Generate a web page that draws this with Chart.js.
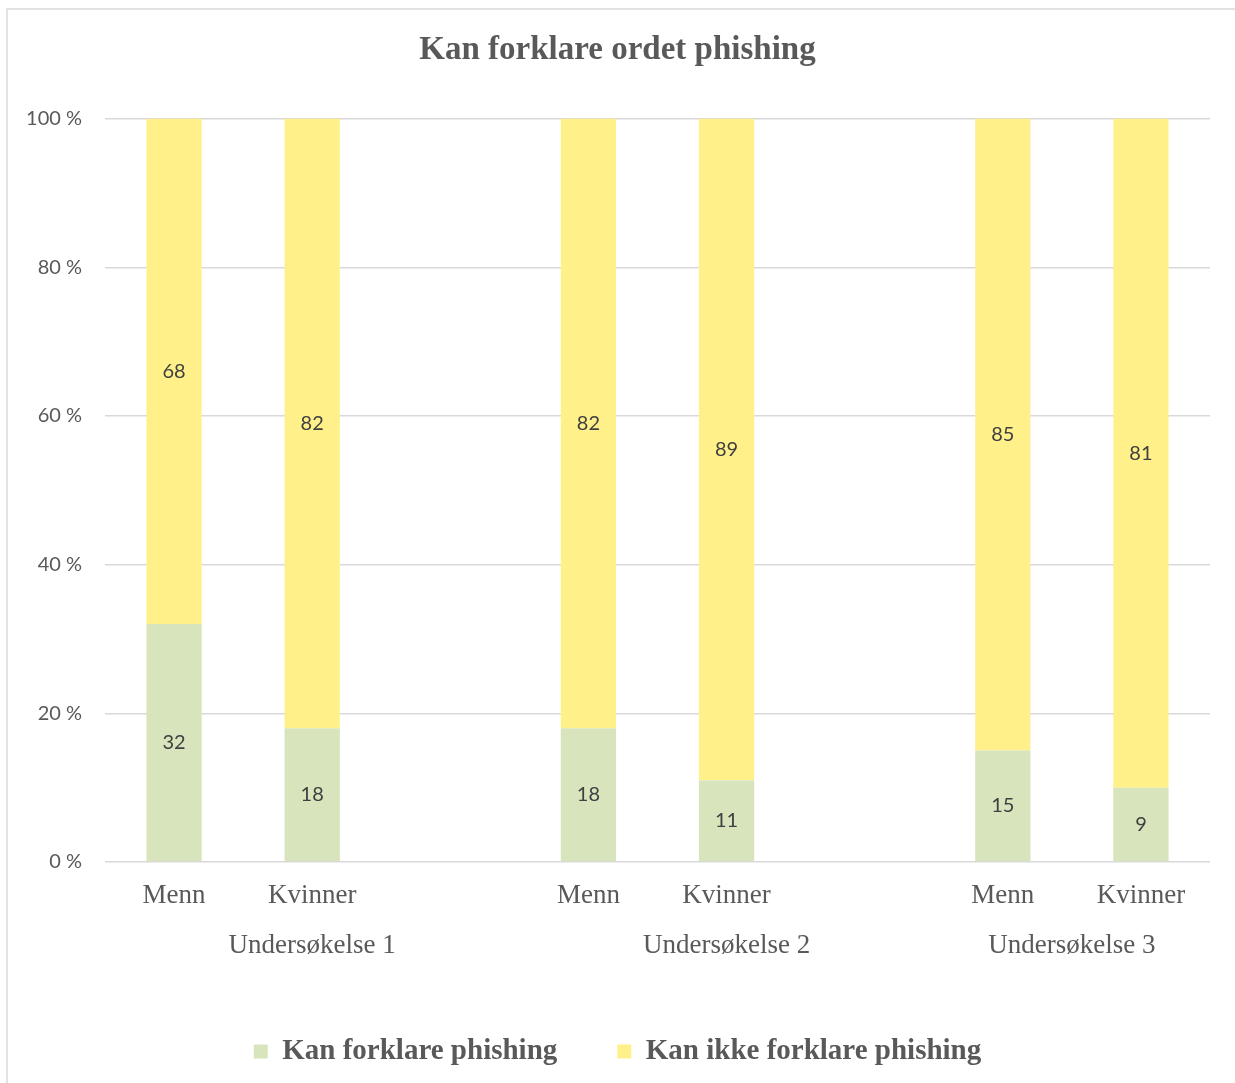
<!DOCTYPE html>
<html><head><meta charset="utf-8">
<script src="https://cdn.jsdelivr.net/npm/chart.js@4/dist/chart.umd.min.js"></script>
<style>html,body{margin:0;padding:0;background:#fff;overflow:hidden;}</style>
</head><body>
<canvas id="c" width="1235" height="1083"></canvas>
<script>
const titleText = "Kan forklare ordet phishing";
const categories = ["Menn", "Kvinner", "", "Menn", "Kvinner", "", "Menn", "Kvinner"];
const seriesNames = ["Kan forklare phishing", "Kan ikke forklare phishing"];
const kanForklare = [32, 18, null, 18, 11, null, 15, 9];
const kanIkkeForklare = [68, 82, null, 82, 89, null, 85, 81];
const groupLabels = ["Undersøkelse 1", "Undersøkelse 2", "Undersøkelse 3"];
const groupFirst = [0, 3, 6];
const groupLast = [2, 5, 7];
const yMax = 100;
const yStep = 20;

// 100 % stacked: each bar shows the share of its total
function share(arr, other) {
  return arr.map((v, i) => (v === null ? null : v / (v + other[i]) * 100));
}

const SERIF = "'Liberation Serif', 'Times New Roman', serif";
const SANS = "Lato, 'Noto Sans', sans-serif";
const GREY = "#595959";

const borderPlugin = {
  id: 'frame',
  beforeDraw(chart) {
    const ctx = chart.ctx;
    ctx.save();
    ctx.fillStyle = '#fff';
    ctx.fillRect(0, 0, chart.width, chart.height);
    ctx.strokeStyle = '#d9d9d9';
    ctx.lineWidth = 1.5;
    ctx.strokeRect(7, 9, chart.width + 20, chart.height + 20);
    ctx.restore();
  }
};

const valueLabels = {
  id: 'valueLabels',
  afterDatasetsDraw(chart) {
    const ctx = chart.ctx;
    ctx.save();
    ctx.font = "20px " + SANS;
    ctx.fillStyle = "#404040";
    ctx.textAlign = 'center';
    ctx.textBaseline = 'middle';
    chart.data.datasets.forEach((ds, di) => {
      const meta = chart.getDatasetMeta(di);
      meta.data.forEach((el, i) => {
        const v = ds.rawValues[i];
        if (v === null || v === undefined) return;
        ctx.fillText(String(v), el.x, (el.y + el.base) / 2);
      });
    });
    ctx.restore();
  }
};

const groupAxis = {
  id: 'groupAxis',
  afterDraw(chart) {
    const ctx = chart.ctx;
    const xs = chart.scales.x;
    ctx.save();
    ctx.font = "27px " + SERIF;
    ctx.fillStyle = GREY;
    ctx.textAlign = 'center';
    ctx.textBaseline = 'middle';
    groupLabels.forEach((g, i) => {
      const x = (xs.getPixelForTick(groupFirst[i]) + xs.getPixelForTick(groupLast[i])) / 2;
      ctx.fillText(g, x, chart.chartArea.bottom + 84);
    });
    ctx.restore();
  }
};

new Chart(document.getElementById('c'), {
  type: 'bar',
  data: {
    labels: categories,
    datasets: [
      { label: seriesNames[0], data: share(kanForklare, kanIkkeForklare), rawValues: kanForklare,
        backgroundColor: '#d8e4bc', borderWidth: 0 },
      { label: seriesNames[1], data: share(kanIkkeForklare, kanForklare), rawValues: kanIkkeForklare,
        backgroundColor: '#fff08a', borderWidth: 0 }
    ]
  },
  options: {
    responsive: false,
    animation: false,
    devicePixelRatio: 1,
    layout: { padding: { left: 25, right: 25, top: 10, bottom: 7 } },
    datasets: { bar: { categoryPercentage: 0.4, barPercentage: 1.0 } },
    plugins: {
      title: {
        display: true, text: titleText, color: GREY,
        font: { family: SERIF, size: 33, weight: 'bold' },
        padding: { top: 21, bottom: 48 }
      },
      legend: {
        display: true, position: 'bottom',
        labels: {
          color: GREY, boxWidth: 14, boxHeight: 14, padding: 60,
          font: { family: SERIF, size: 29, weight: 'bold' }
        }
      },
      tooltip: { enabled: false }
    },
    scales: {
      x: {
        stacked: true,
        grid: { display: false, drawTicks: false },
        border: { display: false },
        ticks: { color: GREY, font: { family: SERIF, size: 27 }, padding: 18, maxRotation: 0, autoSkip: false },
        afterFit(scale) { scale.height = 115; }
      },
      y: {
        stacked: true, min: 0, max: yMax,
        grid: { color: '#d9d9d9', lineWidth: 1.5, drawTicks: false },
        border: { display: false },
        ticks: { stepSize: yStep, color: GREY, padding: 23, font: { family: SANS, size: 20 },
          callback: v => v + ' %' },
        afterFit(scale) { scale.width = 80; }
      }
    }
  },
  plugins: [borderPlugin, valueLabels, groupAxis]
});
</script>
</body></html>
